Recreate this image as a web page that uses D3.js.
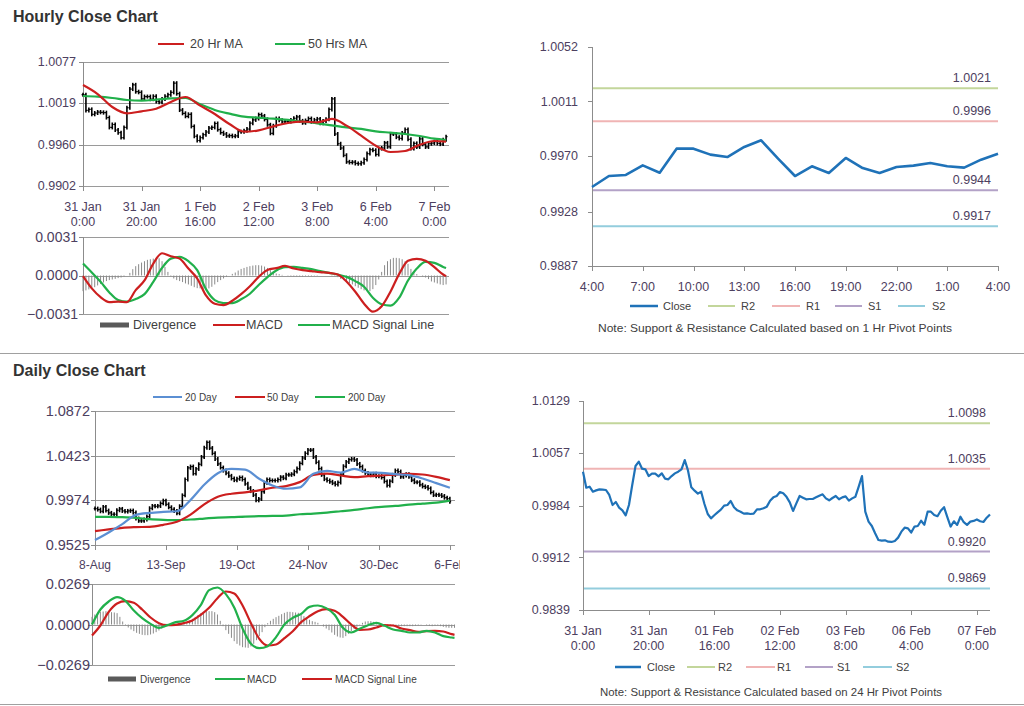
<!DOCTYPE html>
<html><head><meta charset="utf-8">
<script src="https://cdn.jsdelivr.net/npm/d3@7"></script>
<style>
body{margin:0;background:#fff;}
svg{display:block;font-family:Arial,"Liberation Sans",sans-serif;}
</style></head><body>
<svg id="c" width="1024" height="706"></svg>
<script>
// ---------------- DATA ----------------
// Hourly closes, 31 Jan 0:00 .. 7 Feb 4:00 (125 trading hours)
const hourlyClose = [
1.00309,1.00087,1.00101,1.00032,1.00050,1.00064,1.00060,1.00055,0.99986,0.99847,
0.99888,0.99810,0.99773,0.99704,0.99847,1.00124,1.00388,1.00448,1.00351,1.00342,
1.00249,1.00282,1.00282,1.00245,1.00286,1.00212,1.00203,1.00249,1.00286,1.00309,
1.00342,1.00471,1.00323,1.00092,1.00046,1.00004,1.00032,0.99861,0.99722,0.99662,
0.99704,0.99745,0.99782,0.99838,0.99847,0.99902,0.99815,0.99773,0.99754,0.99727,
0.99731,0.99722,0.99727,0.99787,0.99787,0.99801,0.99824,0.99907,0.99953,0.99972,
1.00027,1.00009,0.99960,0.99884,0.99764,0.99870,0.99972,0.99949,0.99926,0.99930,
0.99930,0.99953,0.99976,0.99995,0.99939,0.99912,0.99944,0.99972,0.99926,0.99953,
0.99967,0.99907,0.99939,0.99962,1.00101,1.00249,0.99754,0.99616,0.99556,0.99454,
0.99361,0.99352,0.99357,0.99338,0.99334,0.99348,0.99394,0.99477,0.99532,0.99523,
0.99465,0.99548,0.99556,0.99628,0.99573,0.99754,0.99754,0.99709,0.99691,0.99767,
0.99817,0.99679,0.99548,0.99621,0.99571,0.99684,0.99608,0.99571,0.99616,0.99626,
0.99646,0.99621,0.99611,0.99671,0.99716];
const hourTickIdx = [0,20,40,60,80,100,120];
const hourTickLabels = [["31 Jan","0:00"],["31 Jan","20:00"],["1 Feb","16:00"],["2 Feb","12:00"],["3 Feb","8:00"],["6 Feb","4:00"],["7 Feb","0:00"]];
const hourTickLabels24 = [["31 Jan","0:00"],["31 Jan","20:00"],["01 Feb","16:00"],["02 Feb","12:00"],["03 Feb","8:00"],["06 Feb","4:00"],["07 Feb","0:00"]];
const hourlyYTicks = [0.9902,0.9960,1.0019,1.0077];

const maHours = [0,5,10,15,20,25,30,35,40,45,50,55,60,65,70,75,80,85,90,95,100,105,110,115,120,124];
const ma20Hr = [1.00445,1.00318,1.00135,1.00046,1.00074,1.00111,1.00206,1.00276,1.00154,1.00036,0.99895,0.99787,0.99806,0.99862,0.99909,0.99928,0.99919,0.99966,0.99872,0.99730,0.99589,0.99500,0.99514,0.99603,0.99655,0.99646];
const ma50Hr = [1.00290,1.00281,1.00262,1.00234,1.00224,1.00238,1.00257,1.00262,1.00173,1.00093,1.00041,0.99998,0.99984,0.99970,0.99952,0.99928,0.99905,0.99876,0.99848,0.99825,0.99792,0.99773,0.99754,0.99726,0.99688,0.99669];

const macdHours = [0,3,6,9,12,15,18,21,24,27,30,33,36,39,42,45,48,51,54,57,60,63,66,69,72,75,78,81,84,87,90,93,96,99,102,105,108,111,114,117,120,123,124];
const hrMacd = [-0.00005,-0.00104,-0.00174,-0.00214,-0.00211,-0.00214,-0.00118,-0.00040,0.00096,0.00179,0.00155,0.00136,0.00056,-0.00024,-0.00160,-0.00227,-0.00238,-0.00203,-0.00150,-0.00086,-0.00011,0.00045,0.00059,0.00077,0.00056,0.00043,0.00035,0.00027,0.00021,0.00008,-0.00048,-0.00131,-0.00227,-0.00291,-0.00248,-0.00131,0.00013,0.00118,0.00134,0.00118,0.00067,0.00008,-0.00005];
const hrSignal = [0.00096,0.00024,-0.00051,-0.00136,-0.00198,-0.00211,-0.00190,-0.00150,-0.00051,0.00061,0.00136,0.00150,0.00115,0.00043,-0.00110,-0.00198,-0.00222,-0.00222,-0.00192,-0.00147,-0.00077,-0.00013,0.00040,0.00067,0.00069,0.00061,0.00051,0.00035,0.00021,0.00008,-0.00011,-0.00045,-0.00091,-0.00179,-0.00232,-0.00243,-0.00179,-0.00040,0.00056,0.00110,0.00102,0.00069,0.00061];
const hrDivergence = [
-0.00126,-0.00120,-0.00112,-0.00104,-0.00094,-0.00080,-0.00069,-0.00056,-0.00045,-0.00037,
-0.00032,-0.00027,-0.00021,-0.00016,-0.00008,0,0.00021,0.00051,0.00075,0.00091,
0.00104,0.00115,0.00126,0.00131,0.00136,0.00142,0.00139,0.00115,0.00069,0.00029,
-0.00005,-0.00024,-0.00037,-0.00045,-0.00053,-0.00064,-0.00072,-0.00083,-0.00094,-0.00102,
-0.00104,-0.00110,-0.00110,-0.00104,-0.00091,-0.00072,-0.00053,-0.00037,-0.00024,-0.00011,
0,0.00013,0.00024,0.00040,0.00053,0.00061,0.00069,0.00075,0.00080,0.00083,
0.00083,0.00080,0.00072,0.00061,0.00043,0.00029,0.00016,0.00011,0.00005,0,
-0.00003,-0.00005,-0.00008,-0.00008,-0.00008,-0.00008,-0.00005,-0.00005,-0.00005,-0.00003,
-0.00003,0,0,0,0,-0.00003,-0.00005,-0.00013,-0.00027,-0.00037,
-0.00051,-0.00061,-0.00072,-0.00086,-0.00099,-0.00110,-0.00120,-0.00126,-0.00126,-0.00110,
-0.00077,-0.00032,0.00029,0.00083,0.00115,0.00131,0.00142,0.00142,0.00139,0.00131,
0.00115,0.00094,0.00053,0.00029,0.00011,0,-0.00008,-0.00016,-0.00029,-0.00048,
-0.00056,-0.00064,-0.00072,-0.00077,-0.00072];
const hrMacdTicks = [-0.0031,0.0000,0.0031];

// Pivot charts
const pivotNames = ["R2","R1","S1","S2"];
const pivot1Hr = [1.0021,0.9996,0.9944,0.9917];
const pivot24Hr = [1.0098,1.0035,0.9920,0.9869];
const pivotColors = ["#c3d69b","#f0b4b4","#b3a2c7","#93cddd"];
const pivot1Ticks = [0.9887,0.9928,0.9970,1.0011,1.0052];
const pivot1XLabels = ["4:00","7:00","10:00","13:00","16:00","19:00","22:00","1:00","4:00"];
const pivot24Ticks = [0.9839,0.9912,0.9984,1.0057,1.0129];

// Daily
const dailyClose = [
0.98908,0.98809,0.98642,0.99075,0.98709,0.98476,0.98343,0.98343,0.98742,0.98875,
0.98675,0.98609,0.98675,0.98709,0.98509,0.97910,0.97678,0.97678,0.97811,0.98110,
0.98942,0.99174,0.99141,0.99174,0.99440,0.99707,0.99341,0.99041,0.98842,0.98675,
0.98443,0.99141,1.00239,1.01835,1.02999,1.03132,1.02434,1.02899,1.03365,1.04097,
1.05028,1.05560,1.04995,1.04463,1.03897,1.03398,1.03033,1.02733,1.02467,1.02201,
1.01935,1.01769,1.01902,1.02035,1.01835,1.01403,1.00970,1.00671,1.00272,0.99740,
0.99873,1.00605,1.01503,1.01835,1.01735,1.01735,1.01735,1.01835,1.02068,1.01968,
1.02301,1.02301,1.02367,1.02633,1.02933,1.03465,1.03997,1.04463,1.04795,1.04795,
1.04097,1.03565,1.02933,1.02301,1.01868,1.01735,1.01602,1.01469,1.01336,1.01536,
1.02367,1.03166,1.03598,1.03831,1.03897,1.03798,1.03398,1.03132,1.02733,1.02500,
1.02367,1.02268,1.02401,1.02168,1.02168,1.02035,1.01636,1.01236,1.01669,1.02301,
1.02733,1.02633,1.02101,1.02234,1.02367,1.02101,1.01769,1.01569,1.01569,1.01303,
1.01137,1.01070,1.00937,1.00538,1.00272,1.00305,1.00272,1.00172,1.00006,0.99906,
0.99607];
const dayTickIdx = [0,26,52,78,104,130];
const dayTickLabels = ["8-Aug","13-Sep","19-Oct","24-Nov","30-Dec","6-Feb"];
const dailyYTicks = [0.9525,0.9974,1.0423,1.0872];
const maDays = [0,5,10,15,20,25,30,35,40,45,50,55,60,65,70,75,80,85,90,95,100,105,110,115,120,125,130];
const ma20Day = [0.95749,0.96514,0.97345,0.98276,0.98476,0.98576,0.98642,0.99773,1.01303,1.02467,1.02899,1.02833,1.01935,1.01236,1.00904,1.01037,1.02401,1.02700,1.02534,1.02899,1.02534,1.02500,1.02367,1.02268,1.01935,1.01469,1.01004];
const ma50Day = [0.96647,0.96813,0.96979,0.97046,0.97079,0.97279,0.97578,0.98310,0.99341,1.00106,1.00405,1.00538,1.00738,1.01004,1.01170,1.01569,1.02301,1.02434,1.02234,1.02068,1.02168,1.02234,1.02334,1.02401,1.02334,1.02101,1.01769];
const ma200Day = [0.98077,0.98077,0.98044,0.97977,0.97844,0.97777,0.97744,0.97811,0.97910,0.98010,0.98044,0.98110,0.98143,0.98177,0.98210,0.98343,0.98409,0.98509,0.98642,0.98775,0.98942,0.99075,0.99174,0.99307,0.99407,0.99507,0.99707];
const dMacdDays = [0,3,6,9,12,15,18,21,24,27,30,33,36,39,42,45,48,51,54,57,60,63,66,69,72,75,78,81,84,87,90,93,96,99,102,105,108,111,114,117,120,123,126,129,130];
const dMacd = [0,0.00996,0.01528,0.01815,0.01572,0.00930,0.00421,0.00044,-0.00221,-0.00044,0.00155,0.00244,0.00620,0.01284,0.02280,0.02458,0.02015,0.01129,-0.00266,-0.01284,-0.01572,-0.01439,-0.00841,0,0.00443,0.00708,0.01173,0.01262,0.01085,0.00642,-0.00221,-0.00531,-0.00288,-0.00044,0.00111,-0.00089,-0.00332,-0.00421,-0.00531,-0.00531,-0.00421,-0.00531,-0.00775,-0.00863,-0.00886];
const dSignal = [-0.00731,-0.00066,0.00841,0.01395,0.01550,0.01439,0.00996,0.00465,0.00089,-0.00044,-0.00022,0.00089,0.00266,0.00642,0.01107,0.01749,0.02192,0.02059,0.01262,0.00089,-0.00952,-0.01395,-0.01328,-0.00908,-0.00443,0.00155,0.00554,0.00886,0.01018,0.00908,0.00509,0,-0.00354,-0.00332,-0.00199,-0.00044,-0.00066,-0.00266,-0.00376,-0.00487,-0.00443,-0.00421,-0.00465,-0.00642,-0.00686];
const dDivergence = [
0.00509,0.00664,0.00797,0.00841,0.00863,0.00886,0.00863,0.00819,0.00797,0.00753,
0.00509,0.00199,-0.00044,-0.00199,-0.00332,-0.00443,-0.00554,-0.00620,-0.00686,-0.00708,
-0.00708,-0.00664,-0.00598,-0.00509,-0.00399,-0.00266,-0.00177,-0.00089,-0.00022,0.00022,
0.00044,0.00066,0.00066,0.00089,0.00133,0.00266,0.00376,0.00509,0.00620,0.00753,
0.00819,0.00886,0.00886,0.00886,0.00819,0.00664,0.00244,-0.00111,-0.00376,-0.00620,
-0.00886,-0.01107,-0.01284,-0.01395,-0.01506,-0.01528,-0.01550,-0.01461,-0.01284,-0.01041,
-0.00775,-0.00509,-0.00177,0.00089,0.00244,0.00376,0.00487,0.00576,0.00686,0.00775,
0.00841,0.00841,0.00819,0.00797,0.00775,0.00664,0.00554,0.00443,0.00310,0.00221,
0.00177,0.00111,0,-0.00133,-0.00266,-0.00376,-0.00531,-0.00686,-0.00797,-0.00863,
-0.00886,-0.00775,-0.00620,-0.00443,-0.00288,-0.00155,-0.00022,0.00111,0.00199,0.00221,
0.00221,0.00177,0.00133,0.00089,0.00022,-0.00022,-0.00066,-0.00089,-0.00111,-0.00111,
-0.00111,-0.00111,-0.00111,-0.00111,-0.00111,-0.00111,-0.00089,-0.00066,-0.00022,0,
-0.00044,-0.00089,-0.00111,-0.00089,-0.00066,-0.00111,-0.00155,-0.00199,-0.00221,-0.00221,
-0.00221];
const dMacdTicks = [-0.0269,0.0000,0.0269];

// ---------------- DRAWING ----------------
const svg = d3.select("#c");
const GRID = "#9a9a9a", AX = "#8c8c8c", LBL = "#4d4060", TXT = "#404040";
const RED = "#cc1f1f", GREEN = "#21b04b", BLUE = "#5b8fd3", PBLUE = "#1f72b8";
const f4 = d3.format(".4f");

function grid(g, ticks, y, x0, x1) {
  g.selectAll(null).data(ticks).enter().append("line")
    .attr("x1", x0).attr("x2", x1).attr("y1", d => Math.round(y(d)) + 0.5).attr("y2", d => Math.round(y(d)) + 0.5)
    .attr("stroke", GRID).attr("stroke-width", 1);
}
function yAxis(g, ticks, y, ax, y0, y1, lx, fs, grey) {
  g.append("line").attr("x1", ax + 0.5).attr("x2", ax + 0.5).attr("y1", y0).attr("y2", y1).attr("stroke", AX);
  g.selectAll(null).data(ticks).enter().append("line")
    .attr("x1", ax - 4).attr("x2", ax).attr("y1", d => Math.round(y(d)) + 0.5).attr("y2", d => Math.round(y(d)) + 0.5).attr("stroke", AX);
  g.selectAll(null).data(ticks).enter().append("text")
    .attr("x", lx).attr("y", d => y(d)).attr("dy", "0.35em").attr("text-anchor", "end")
    .attr("font-size", fs).attr("fill", grey || LBL).text(d => f4(d));
}
function xTicks(g, idx, x, yb) {
  g.selectAll(null).data(idx).enter().append("line")
    .attr("x1", d => Math.round(x(d)) + 0.5).attr("x2", d => Math.round(x(d)) + 0.5)
    .attr("y1", yb).attr("y2", yb + 5).attr("stroke", AX);
}
function bars(g, closes, x, y, w) {
  closes.forEach((c, i) => {
    const o = i > 0 ? closes[i - 1] : c;
    const hi = Math.max(o, c), lo = Math.min(o, c);
    const xx = x(i);
    g.append("line").attr("x1", xx).attr("x2", xx).attr("y1", y(hi) - 2).attr("y2", y(lo) + 2).attr("stroke", "#000").attr("stroke-width", 1.6);
    g.append("line").attr("x1", xx - w).attr("x2", xx).attr("y1", y(o)).attr("y2", y(o)).attr("stroke", "#000").attr("stroke-width", 1.2);
    g.append("line").attr("x1", xx).attr("x2", xx + w).attr("y1", y(c)).attr("y2", y(c)).attr("stroke", "#000").attr("stroke-width", 1.2);
  });
}
function pathLine(g, xs, vals, x, y, color, w) {
  g.append("path").datum(vals.map((v, i) => [xs[i], v]))
    .attr("d", d3.line().x(d => x(d[0])).y(d => y(d[1])).curve(d3.curveMonotoneX))
    .attr("fill", "none").attr("stroke", color).attr("stroke-width", w).attr("stroke-linejoin", "round");
}
function divBars(g, vals, x, y, color) {
  g.selectAll(null).data(vals).enter().append("line")
    .attr("x1", (d, i) => x(i)).attr("x2", (d, i) => x(i))
    .attr("y1", y(0)).attr("y2", d => y(d)).attr("stroke", color).attr("stroke-width", 1);
}
function legLine(g, x0, x1, yy, color, label, tx, fs, w) {
  g.append("line").attr("x1", x0).attr("x2", x1).attr("y1", yy).attr("y2", yy).attr("stroke", color).attr("stroke-width", w || 2);
  g.append("text").attr("x", tx).attr("y", yy).attr("dy", "0.35em").attr("font-size", fs).attr("fill", TXT).text(label);
}
function legRect(g, x0, x1, yy, label, tx, fs) {
  g.append("rect").attr("x", x0).attr("y", yy - 2.5).attr("width", x1 - x0).attr("height", 5).attr("fill", "#5a5a5a");
  g.append("text").attr("x", tx).attr("y", yy).attr("dy", "0.35em").attr("font-size", fs).attr("fill", TXT).text(label);
}

// Titles & separators
svg.append("text").attr("x", 13).attr("y", 22).attr("font-size", 16).attr("font-weight", "bold").attr("fill", "#333").text("Hourly Close Chart");
svg.append("text").attr("x", 13).attr("y", 376).attr("font-size", 16).attr("font-weight", "bold").attr("fill", "#333").text("Daily Close Chart");
svg.append("line").attr("x1", 0).attr("x2", 1024).attr("y1", 353.5).attr("y2", 353.5).attr("stroke", "#a0a0a0");
svg.append("line").attr("x1", 0).attr("x2", 1024).attr("y1", 704.5).attr("y2", 704.5).attr("stroke", "#a0a0a0");

// ===== Hourly price chart =====
{
  const g = svg.append("g");
  const x = d3.scaleLinear().domain([0, 125]).range([83, 449]);
  const y = d3.scaleLinear().domain([0.9902, 1.0077]).range([186, 62]);
  grid(g, hourlyYTicks, y, 83, 449);
  yAxis(g, hourlyYTicks, y, 83, 62, 186, 76, 12.5);
  xTicks(g, hourTickIdx, x, 186);
  g.selectAll(null).data(hourTickIdx).enter().append("text")
    .attr("x", d => x(d)).attr("y", 211).attr("text-anchor", "middle").attr("font-size", 12.5).attr("fill", LBL)
    .text((d, i) => hourTickLabels[i][0]);
  g.selectAll(null).data(hourTickIdx).enter().append("text")
    .attr("x", d => x(d)).attr("y", 226).attr("text-anchor", "middle").attr("font-size", 12.5).attr("fill", LBL)
    .text((d, i) => hourTickLabels[i][1]);
  bars(g, hourlyClose, x, y, 1.4);
  pathLine(g, maHours, ma50Hr, x, y, GREEN, 2.2);
  pathLine(g, maHours, ma20Hr, x, y, RED, 2.2);
  legLine(g, 158, 184, 44, RED, "20 Hr MA", 190, 12.5);
  legLine(g, 275, 305, 44, GREEN, "50 Hrs MA", 308, 12.5);

  // MACD
  const ym = d3.scaleLinear().domain([-0.0031, 0.0031]).range([314, 237]);
  grid(g, hrMacdTicks, ym, 83, 449);
  yAxis(g, hrMacdTicks, ym, 83, 237, 314, 78, 14);
  divBars(g, hrDivergence, x, ym, "#8a8a8a");
  pathLine(g, macdHours, hrSignal, x, ym, GREEN, 2.2);
  pathLine(g, macdHours, hrMacd, x, ym, RED, 2.2);
  legRect(g, 100, 129, 325, "Divergence", 133, 12.5);
  legLine(g, 213, 245, 325, RED, "MACD", 246, 12.5);
  legLine(g, 298, 330, 325, GREEN, "MACD Signal Line", 332, 12.5);
}

// ===== Pivot charts =====
function pivotChart(o) {
  const g = svg.append("g");
  const x = d3.scaleLinear().domain([0, o.n - 1]).range([o.x0, o.x1]);
  const y = d3.scaleLinear().domain([o.ticks[0], o.ticks[o.ticks.length - 1]]).range([o.y1, o.y0]);
  yAxis(g, o.ticks, y, o.x0, o.y0, o.y1, o.lx, 12.5);
  g.append("line").attr("x1", o.x0).attr("x2", o.x1).attr("y1", o.y1 + 0.5).attr("y2", o.y1 + 0.5).attr("stroke", AX);
  xTicks(g, o.tickIdx, x, o.y1);
  o.levels.forEach((v, i) => {
    g.append("line").attr("x1", o.x0 + 1).attr("x2", o.x1).attr("y1", y(v)).attr("y2", y(v)).attr("stroke", pivotColors[i]).attr("stroke-width", 2);
    g.append("text").attr("x", o.llx).attr("y", y(v) - 6).attr("text-anchor", "end").attr("font-size", 12.5).attr("fill", LBL).text(f4(v));
  });
  g.append("path").datum(o.closes)
    .attr("d", d3.line().x((d, i) => x(i)).y(d => y(d)))
    .attr("fill", "none").attr("stroke", PBLUE).attr("stroke-width", o.lw).attr("stroke-linejoin", "round");
  o.labels.forEach((lab, k) => {
    const lines = Array.isArray(lab) ? lab : [lab];
    lines.forEach((s, j) => {
      g.append("text").attr("x", x(o.tickIdx[k])).attr("y", o.ly + j * 15).attr("text-anchor", "middle")
        .attr("font-size", 12.5).attr("fill", LBL).text(s);
    });
  });
  const L = o.leg;
  legLine(g, L[0], L[1], o.legY, PBLUE, "Close", L[2], 11, 2.5);
  pivotNames.forEach((nm, i) => legLine(g, L[3 + i * 3], L[4 + i * 3], o.legY, pivotColors[i], nm, L[5 + i * 3], 11, 2));
  g.append("text").attr("x", o.noteX).attr("y", o.noteY).attr("dy", "0.35em").attr("font-size", 11).attr("fill", TXT)
    .attr("textLength", o.noteW).attr("lengthAdjust", "spacingAndGlyphs").text(o.note);
}
pivotChart({
  n: 25, closes: hourlyClose.slice(100), x0: 592, x1: 998, y0: 47, y1: 266, lx: 578, llx: 991, lw: 2.6,
  ticks: pivot1Ticks, levels: pivot1Hr, tickIdx: [0,3,6,9,12,15,18,21,24], labels: pivot1XLabels, ly: 291,
  legY: 306, leg: [630, 658, 663, 708, 735, 741, 772, 800, 806, 835, 862, 868, 898, 925, 932],
  noteX: 598, noteY: 328, noteW: 354, note: "Note: Support & Resistance Calculated based on 1 Hr Pivot Points"
});
pivotChart({
  n: 125, closes: hourlyClose, x0: 583, x1: 990, y0: 401, y1: 610, lx: 570, llx: 986, lw: 2.2,
  ticks: pivot24Ticks, levels: pivot24Hr, tickIdx: hourTickIdx, labels: hourTickLabels24, ly: 635,
  legY: 667, leg: [615, 641, 647, 687, 715, 718, 746, 775, 777, 805, 833, 837, 863, 892, 896],
  noteX: 600, noteY: 692, noteW: 342, note: "Note: Support & Resistance Calculated based on 24 Hr Pivot Points"
});

// ===== Daily chart =====
{
  svg.append("defs").append("clipPath").attr("id", "dclip").append("rect").attr("x", 0).attr("y", 380).attr("width", 460).attr("height", 320);
  const g = svg.append("g").attr("clip-path", "url(#dclip)");
  const x = d3.scaleLinear().domain([0, 131]).range([95, 452.6]);
  const y = d3.scaleLinear().domain([0.9525, 1.0872]).range([545, 411]);
  grid(g, dailyYTicks, y, 95, 455);
  yAxis(g, dailyYTicks, y, 95, 411, 545, 90, 14.5);
  xTicks(g, dayTickIdx, x, 545);
  g.selectAll(null).data(dayTickIdx).enter().append("text")
    .attr("x", d => x(d)).attr("y", 569).attr("text-anchor", "middle").attr("font-size", 12).attr("fill", LBL)
    .text((d, i) => dayTickLabels[i]);
  bars(g, dailyClose, x, y, 1.3);
  pathLine(g, maDays, ma200Day, x, y, GREEN, 2.2);
  pathLine(g, maDays, ma50Day, x, y, RED, 2.2);
  pathLine(g, maDays, ma20Day, x, y, BLUE, 2.2);
  legLine(g, 153, 182, 397, BLUE, "20 Day", 185, 10);
  legLine(g, 235, 265, 397, RED, "50 Day", 267, 10);
  legLine(g, 315, 345, 397, GREEN, "200 Day", 348, 10);

  const xm = d3.scaleLinear().domain([0, 130]).range([92, 454.5]);
  const ym = d3.scaleLinear().domain([-0.0269, 0.0269]).range([665, 584]);
  grid(g, dMacdTicks, ym, 92, 455);
  yAxis(g, dMacdTicks, ym, 92, 584, 665, 90, 14.5);
  divBars(g, dDivergence, xm, ym, "#8a8a8a");
  pathLine(g, dMacdDays, dSignal, xm, ym, RED, 2.2);
  pathLine(g, dMacdDays, dMacd, xm, ym, GREEN, 2.2);
  legRect(g, 108, 136, 679, "Divergence", 140, 10);
  legLine(g, 215, 245, 679, GREEN, "MACD", 247, 10);
  legLine(g, 302, 332, 679, RED, "MACD Signal Line", 335, 10);
}
</script>
</body></html>
